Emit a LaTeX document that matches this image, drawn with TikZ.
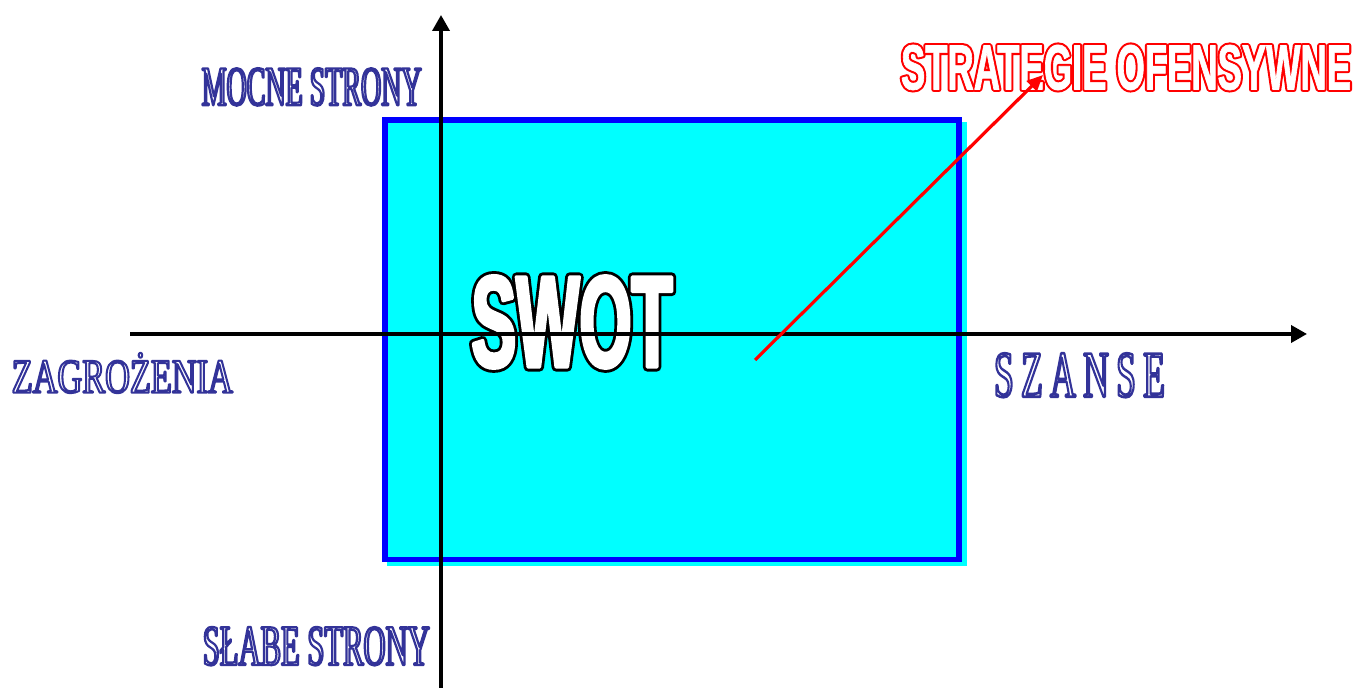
\documentclass[tikz,border=0pt]{standalone}
\usepackage{fontspec}
\usepackage{graphicx}
\usetikzlibrary{arrows.meta}
\setmainfont{Liberation Serif}
\newfontfamily\sansf{Liberation Sans}
\definecolor{boxfill}{RGB}{0,255,255}
\definecolor{boxline}{RGB}{0,0,255}
\definecolor{lblblue}{RGB}{51,51,153}
\definecolor{arrred}{RGB}{255,0,0}
\newcommand\pdfmode[1]{\special{pdf:literal direct #1}}
\newcommand\pdfreset{\pdfmode{0 Tr 0 g 0 G 1 w 0 j}}
% outlined text: #1 width, #2 height, #3 pdf settings, #4 font, #5 text
\newcommand\outltext[5]{\resizebox{#1}{#2}{#4\pdfmode{#3}\vphantom{A}\smash{#5}\pdfreset}}
% outline outside glyph: #1 width, #2 height, #3 font, #4 outer pass, #5 inner pass, #6 text
\newcommand\outltwo[6]{\resizebox{#1}{#2}{#3\rlap{\pdfmode{#4}\vphantom{A}\smash{#6}\pdfreset}\pdfmode{#5}\vphantom{A}\smash{#6}\pdfreset}}
\begin{document}
\begin{tikzpicture}[x=0.5pt,y=-0.5pt,
  axis/.style={line width=1.8pt,-{Triangle[length=8pt,width=8.5pt]}},
  redarrow/.style={line width=1.6pt,arrred,-{Triangle[length=8pt,width=7pt]}},
  lbl/.style={inner sep=0pt,outer sep=0pt},
  shadowbox/.style={fill=boxfill,inner sep=0pt,outer sep=0pt},
  mainbox/.style={draw=boxline,fill=boxfill,line width=2.85pt,inner sep=0pt,outer sep=0pt}]
\useasboundingbox (0,0) rectangle (1358,688);
\fill[white] (0,0) rectangle (1358,688);
% shadow and box
\node[shadowbox,minimum width=290pt,minimum height=222pt] (shadow) at (677,344) {};
\node[mainbox,minimum width=287pt,minimum height=219.75pt] (box) at (672,339.75) {};
% SWOT
\node[lbl] (swot) at (572,322) {\outltwo{100.5pt}{45pt}{\fontsize{63}{63}\sansf\bfseries\addfontfeature{FakeStretch=0.53}}{2 Tr 1 j 4.4 w 0 0 0 rg 0 0 0 RG}{2 Tr 1 j 1.6 w 1 1 1 rg 1 1 1 RG}{SWOT}};
% axes
\coordinate (xs) at (130,334);
\coordinate (xe) at (1307,334);
\coordinate (ys) at (441,688);
\coordinate (ye) at (441,15);
\draw[axis] (xs) -- (xe);
\draw[axis] (ys) -- (ye);
% labels
\node[lbl] (strat) at (1126,67.5) {\outltwo{225pt}{22pt}{\fontsize{30.5}{30.5}\sansf\bfseries\addfontfeature{FakeStretch=0.57}}{2 Tr 1 j 2.3 w 1 0 0 rg 1 0 0 RG}{2 Tr 1 j 0.3 w 1 1 1 rg 1 1 1 RG}{STRATEGIE OFENSYWNE}};
\node[lbl] (mocne) at (311.7,86.7) {\outltext{110pt}{18.5pt}{2 Tr 1 j 1.1 w 1 1 1 rg 0.2 0.2 0.6 RG}{\fontsize{28}{28}\selectfont\addfontfeature{FakeStretch=0.5}}{MOCNE STRONY}};
\node[lbl] (slabe) at (316.3,646) {\outltext{113.5pt}{19pt}{2 Tr 1 j 1.1 w 1 1 1 rg 0.2 0.2 0.6 RG}{\fontsize{28.7}{28.7}\selectfont\addfontfeature{FakeStretch=0.53}}{SŁABE STRONY}};
\node[lbl] (zagr) at (122.3,376.7) {\outltext{110.5pt}{16pt}{2 Tr 1 j 1.0 w 1 1 1 rg 0.2 0.2 0.6 RG}{\fontsize{24.2}{24.2}\selectfont\addfontfeature{FakeStretch=0.7}}{ZAGROŻENIA}};
\node[lbl] (szanse) at (1079.5,375) {\outltext{85.5pt}{21.7pt}{2 Tr 1 j 1.3 w 1 1 1 rg 0.2 0.2 0.6 RG}{\fontsize{32.8}{32.8}\selectfont\addfontfeature{FakeStretch=0.68}}{S\hspace{.14em}Z\hspace{.14em}A\hspace{.14em}N\hspace{.14em}S\hspace{.14em}E}};
% red arrow
\coordinate (rs) at (755,360);
\coordinate (re) at (1043,75);
\draw[redarrow] (rs) -- (re);
\end{tikzpicture}
\end{document}
